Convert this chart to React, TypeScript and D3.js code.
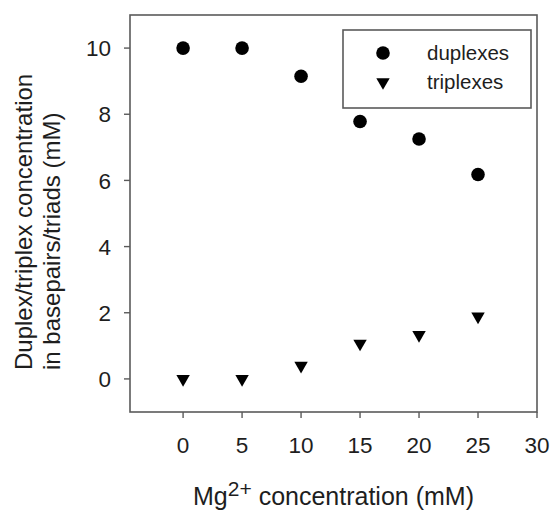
import React from "react";
import * as d3 from "d3";

const mgConc = [0, 5, 10, 15, 20, 25];
const duplexes = [10, 10, 9.15, 7.78, 7.25, 6.18];
const triplexes = [0, 0, 0.4, 1.07, 1.33, 1.89];
const xTicks = [0, 5, 10, 15, 20, 25, 30];
const yTicks = [0, 2, 4, 6, 8, 10];
const legendLabels = ["duplexes", "triplexes"];

const W = 552;
const H = 514;
const frame = { left: 130, right: 537, top: 15, bottom: 412 };
const FONT = "'Liberation Sans', Arial, Helvetica, sans-serif";
const TEXT = "#1e1e1e";
const LINE = "#5a5a5a";

export default function App() {
  const x = d3.scaleLinear().domain([-4.5, 30]).range([frame.left, frame.right]);
  const y = d3.scaleLinear().domain([-1, 11]).range([frame.bottom, frame.top]);
  const tri = d3.symbol().type(d3.symbolTriangle).size(78)();
  const circleR = 6.8;

  const legend = { x0: 343, y0: 30, x1: 531, y1: 108 };
  const legendRows = [53, 82];

  return (
    <svg width={W} height={H} style={{ position: "absolute", left: 0, top: 0, background: "#fff" }} fontFamily={FONT}>
      <rect x={0} y={0} width={W} height={H} fill="#fff" />
      {/* frame */}
      <rect x={frame.left} y={frame.top} width={frame.right - frame.left} height={frame.bottom - frame.top} fill="none" stroke={LINE} strokeWidth={1.6} />
      {/* x ticks */}
      {xTicks.map((t) => (
        <g key={"xt" + t}>
          <line x1={x(t)} x2={x(t)} y1={frame.bottom} y2={frame.bottom + 6} stroke={LINE} strokeWidth={1.4} />
          <text x={x(t)} y={453} textAnchor="middle" fontSize={22.5} fill={TEXT}>{t}</text>
        </g>
      ))}
      {/* y ticks */}
      {yTicks.map((t) => (
        <g key={"yt" + t}>
          <line x1={frame.left - 6} x2={frame.left} y1={y(t)} y2={y(t)} stroke={LINE} strokeWidth={1.4} />
          <text x={111} y={y(t)} dy="0.36em" textAnchor="end" fontSize={22.5} fill={TEXT}>{t}</text>
        </g>
      ))}
      {/* axis titles */}
      <text x={(frame.left + frame.right) / 2} y={505} textAnchor="middle" fontSize={25} fill={TEXT}>
        Mg<tspan dy={-9} fontSize={21}>2+</tspan><tspan dy={9}> concentration (mM)</tspan>
      </text>
      <text transform={`translate(32,370) rotate(-90)`} textAnchor="start" fontSize={24} fill={TEXT}>Duplex/triplex concentration</text>
      <text transform={`translate(60,370) rotate(-90)`} textAnchor="start" fontSize={24} fill={TEXT}>in basepairs/triads (mM)</text>
      {/* data */}
      {mgConc.map((m, i) => (
        <circle key={"d" + i} cx={x(m)} cy={y(duplexes[i])} r={circleR} fill="#000" />
      ))}
      {mgConc.map((m, i) => (
        <path key={"t" + i} d={tri} transform={`translate(${x(m)},${y(triplexes[i])}) rotate(180)`} fill="#000" />
      ))}
      {/* legend */}
      <rect x={legend.x0} y={legend.y0} width={legend.x1 - legend.x0} height={legend.y1 - legend.y0} fill="#fff" stroke={LINE} strokeWidth={1.6} />
      <circle cx={383} cy={legendRows[0]} r={circleR} fill="#000" />
      <path d={tri} transform={`translate(383,${legendRows[1]}) rotate(180)`} fill="#000" />
      {legendLabels.map((l, i) => (
        <text key={l} x={427} y={legendRows[i]} dy="0.36em" fontSize={20.5} fill={TEXT}>{l}</text>
      ))}
    </svg>
  );
}
